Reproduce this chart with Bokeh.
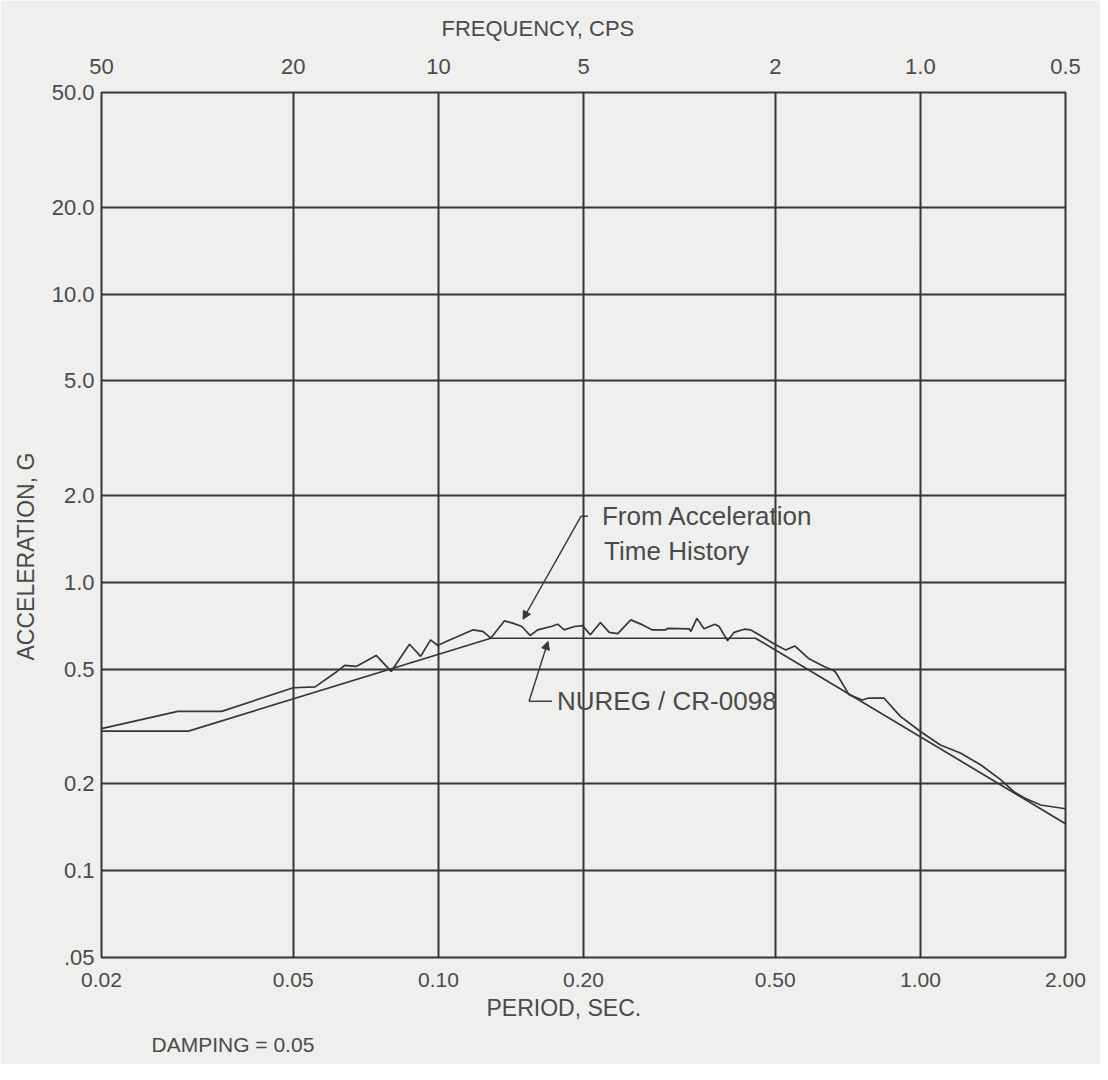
from bokeh.plotting import figure
from bokeh.models import (Range1d, LogScale, LogAxis, FixedTicker, Arrow, NormalHead,
                          Label, Title, ColumnDataSource)
from bokeh.embed import file_html
from bokeh.resources import INLINE

# ---------------- data ----------------
period_ticks = [0.02, 0.05, 0.1, 0.2, 0.5, 1.0, 2.0]
period_labels = ["0.02", "0.05", "0.10", "0.20", "0.50", "1.00", "2.00"]
freq_ticks = [50.0, 20.0, 10.0, 5.0, 2.0, 1.0, 0.5]
freq_labels = ["50", "20", "10", "5", "2", "1.0", "0.5"]
accel_ticks = [0.05, 0.1, 0.2, 0.5, 1.0, 2.0, 5.0, 10.0, 20.0, 50.0]
accel_labels = [".05", "0.1", "0.2", "0.5", "1.0", "2.0", "5.0", "10.0", "20.0", "50.0"]

# Response spectrum computed from the acceleration time history
period_th = [0.02, 0.0288, 0.0355, 0.05, 0.0555, 0.0615, 0.0639, 0.0675, 0.0743, 0.0798,
             0.0871, 0.0919, 0.0963, 0.0997, 0.1038, 0.1178, 0.1236, 0.1285, 0.137, 0.1426,
             0.149, 0.155, 0.1607, 0.1713, 0.1768, 0.1824, 0.1914, 0.1992, 0.2066, 0.2168,
             0.2262, 0.2355, 0.2507, 0.2653, 0.278, 0.2963, 0.2987, 0.3312, 0.334, 0.3438,
             0.3557, 0.3746, 0.3824, 0.398, 0.4108, 0.4309, 0.4448, 0.4628, 0.4986, 0.5256,
             0.5487, 0.5875, 0.631, 0.657, 0.667, 0.711, 0.7575, 0.782, 0.84, 0.909,
             1.0, 1.10, 1.21, 1.333, 1.467, 1.563, 1.64, 1.776, 2.0]
accel_th = [0.311, 0.357, 0.357, 0.431, 0.434, 0.49, 0.515, 0.511, 0.558, 0.491,
            0.610, 0.554, 0.632, 0.604, 0.624, 0.684, 0.676, 0.641, 0.735, 0.722,
            0.703, 0.654, 0.684, 0.703, 0.716, 0.684, 0.703, 0.708, 0.658, 0.726,
            0.671, 0.664, 0.741, 0.712, 0.684, 0.684, 0.693, 0.69, 0.676, 0.75,
            0.69, 0.716, 0.703, 0.627, 0.671, 0.688, 0.684, 0.658, 0.61, 0.583,
            0.602, 0.543, 0.511, 0.497, 0.488, 0.408, 0.391, 0.397, 0.397, 0.343,
            0.304, 0.273, 0.256, 0.233, 0.207, 0.188, 0.179, 0.169, 0.164]

# NUREG/CR-0098 design spectrum
period_nureg = [0.02, 0.0303, 0.1285, 0.455, 2.0]
accel_nureg = [0.305, 0.305, 0.64, 0.64, 0.1456]

# annotation anchor points (data units)
th_leader_x = [0.2043, 0.1977]
th_leader_y = [1.696, 1.696]
th_arrow = (0.1977, 1.696, 0.1498, 0.745)
th_text = [(0.2184, 1.70, "From Acceleration"), (0.2207, 1.28, "Time History")]
nu_leader_x = [0.1542, 0.172]
nu_leader_y = [0.387, 0.387]
nu_arrow = (0.1542, 0.387, 0.1688, 0.624)
nu_text = (0.1762, 0.387, "NUREG / CR-0098")

# ---------------- style ----------------
FONT = "Liberation Sans"
TXT = "#4a4a4a"
INK = "#363636"
BG = "#efefed"

p = figure(width=1100, height=1064, x_axis_type="log", y_axis_type="log",
           x_range=Range1d(0.02, 2.0), y_range=Range1d(0.05, 50.0),
           output_backend="svg", toolbar_location=None,
           min_border_left=100, min_border_right=35, min_border_top=92, min_border_bottom=107,
           background_fill_color=BG, border_fill_color=BG)
p.outline_line_color = INK
p.outline_line_width = 2

# grids
p.xgrid.ticker = FixedTicker(ticks=period_ticks)
p.ygrid.ticker = FixedTicker(ticks=accel_ticks)
for g in (p.xgrid[0], p.ygrid[0]):
    g.grid_line_color = INK
    g.grid_line_width = 2
    g.grid_line_alpha = 1.0

def style_axis(ax, size="22px"):
    ax.axis_line_color = None
    ax.major_tick_line_color = None
    ax.minor_tick_line_color = None
    ax.major_label_text_font = FONT
    ax.major_label_text_font_size = size
    ax.major_label_text_color = TXT

def title(text, align, offset, standoff, size, valign="bottom"):
    return Title(text=text, align=align, offset=offset, standoff=standoff,
                 vertical_align=valign,
                 text_font=FONT, text_font_size=size, text_font_style="normal",
                 text_color=TXT)

bx = p.below[0]
bx.ticker = FixedTicker(ticks=period_ticks)
bx.major_label_overrides = dict(zip(period_ticks, period_labels))
style_axis(bx, "21px")
bx.major_label_standoff = 9

ly = p.left[0]
ly.ticker = FixedTicker(ticks=accel_ticks)
ly.major_label_overrides = dict(zip(accel_ticks, accel_labels))
style_axis(ly)
ly.major_label_standoff = 1

p.extra_x_ranges = {"freq": Range1d(start=50.0, end=0.5)}
p.extra_x_scales = {"freq": LogScale()}
tx = LogAxis(x_range_name="freq", ticker=FixedTicker(ticks=freq_ticks),
             major_label_overrides=dict(zip(freq_ticks, freq_labels)))
style_axis(tx)
tx.major_label_standoff = 13
p.add_layout(tx, "above")

# axis titles (placed as side titles to match their off-centre positions)
p.add_layout(title("FREQUENCY, CPS", "left", 340, 26, "22px", "top"), "above")
p.add_layout(title("PERIOD, SEC.", "left", 385, 7, "23px"), "below")
p.add_layout(title("DAMPING = 0.05", "left", 50, 12, "21px"), "below")
p.add_layout(title("ACCELERATION, G", "left", 297, 20, "23px"), "left")

# curves
src_th = ColumnDataSource(dict(x=period_th, y=accel_th))
src_nu = ColumnDataSource(dict(x=period_nureg, y=accel_nureg))
p.line("x", "y", source=src_nu, line_color=INK, line_width=1.7)
p.line("x", "y", source=src_th, line_color=INK, line_width=1.7)

# leaders and labels
p.line(th_leader_x, th_leader_y, line_color=INK, line_width=1.4)
p.line(nu_leader_x, nu_leader_y, line_color=INK, line_width=1.4)
for (xs, ys, xe, ye) in (th_arrow, nu_arrow):
    p.add_layout(Arrow(end=NormalHead(size=8, fill_color=INK, line_color=INK),
                       x_start=xs, y_start=ys, x_end=xe, y_end=ye,
                       line_color=INK, line_width=1.4))
for (x, y, t) in th_text + [nu_text]:
    p.add_layout(Label(x=x, y=y, text=t, text_baseline="middle", text_align="left",
                       text_font=FONT, text_font_size="26px", text_color=TXT))

open("out.html", "w").write(file_html(p, INLINE))
